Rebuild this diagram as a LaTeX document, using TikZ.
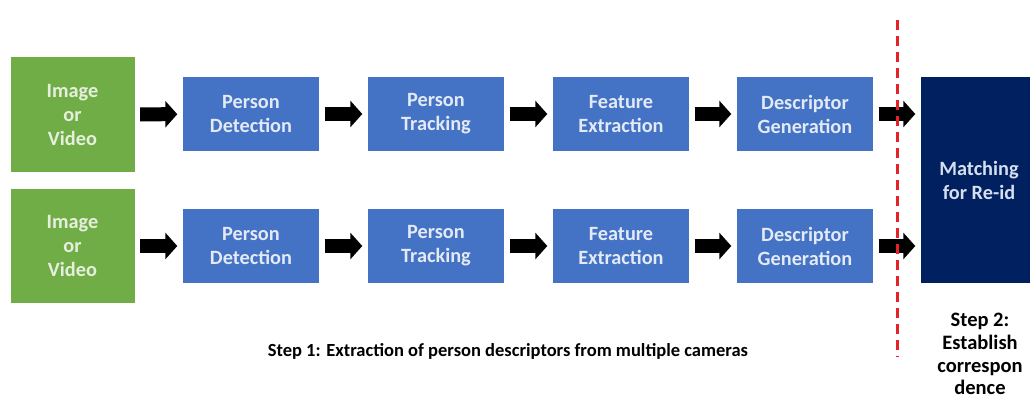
\documentclass[tikz,border=0pt]{standalone}
\usepackage{fontspec}
\setmainfont{Carlito}
\usetikzlibrary{arrows.meta}

\definecolor{srcgreen}{HTML}{70AD47}
\definecolor{srctext}{HTML}{E6EFDD}
\definecolor{stepblue}{HTML}{4472C4}
\definecolor{steptext}{HTML}{E3EAF6}
\definecolor{matchnavy}{HTML}{002060}
\definecolor{matchtext}{HTML}{D6DFF0}
\definecolor{cutred}{HTML}{E8202A}

\begin{document}
\begin{tikzpicture}[x=1pt,y=-1pt,
  box/.style={rectangle, inner sep=0pt, align=center,
    font=\bfseries\fontsize{20.3}{24}\selectfont},
  srcbox/.style={box, fill=srcgreen, text=srctext,
    minimum width=124, minimum height=114},
  stepbox/.style={box, fill=stepblue, text=steptext,
    minimum width=136, minimum height=74},
  matchbox/.style={box, fill=matchnavy, text=matchtext,
    minimum width=116, minimum height=206},
  flow/.style={line width=14, -{Triangle[length=12,width=26]},
    shorten <=5.5, shorten >=5.5},
  cut/.style={cutred, line width=3, dash pattern=on 10 off 6},
  caption/.style={align=center, font=\bfseries\fontsize{18.5}{23.5}\selectfont},
  sidecaption/.style={align=center, inner sep=0pt,
    font=\bfseries\fontsize{20.5}{22.8}\selectfont}
]
\useasboundingbox (0,0) rectangle (1030,401);

% camera 1 pipeline
\node[srcbox]  (src1) at (72.5,114.5) {Image\\or\\Video};
\node[stepbox] (det1) at (251,114) {Person\\Detection};
\node[stepbox] (trk1) at (436,114) {Person\\Tracking};
\node[stepbox] (fea1) at (621,114) {Feature\\Extraction};
\node[stepbox] (des1) at (805,114) {Descriptor\\Generation};

% camera 2 pipeline
\node[srcbox]  (src2) at (72.5,246) {Image\\or\\Video};
\node[stepbox] (det2) at (251,246) {Person\\Detection};
\node[stepbox] (trk2) at (436,246) {Person\\Tracking};
\node[stepbox] (fea2) at (621,246) {Feature\\Extraction};
\node[stepbox] (des2) at (805,246) {Descriptor\\Generation};

% matching stage
\node[matchbox] (match) at (979,180) {Matching\\for Re-id};

% flow arrows
\foreach \r in {1,2}{
  \draw[flow] (src\r) -- (det\r);
  \draw[flow] (det\r) -- (trk\r);
  \draw[flow] (trk\r) -- (fea\r);
  \draw[flow] (fea\r) -- (des\r);
  \draw[flow] (des\r.east) -- (des\r.east -| match.west);
}

% separation between the two steps
\coordinate (cutTop) at (897,20);
\coordinate (cutBot) at (897,357);
\draw[cut] (cutTop) -- (cutBot);

% step captions
\node[caption] (step1) at (508,351) {Step 1: Extraction of person descriptors from multiple cameras};
\node[sidecaption] (step2) at (980,354) {Step 2:\\Establish\\correspon\\dence};
\end{tikzpicture}
\end{document}
